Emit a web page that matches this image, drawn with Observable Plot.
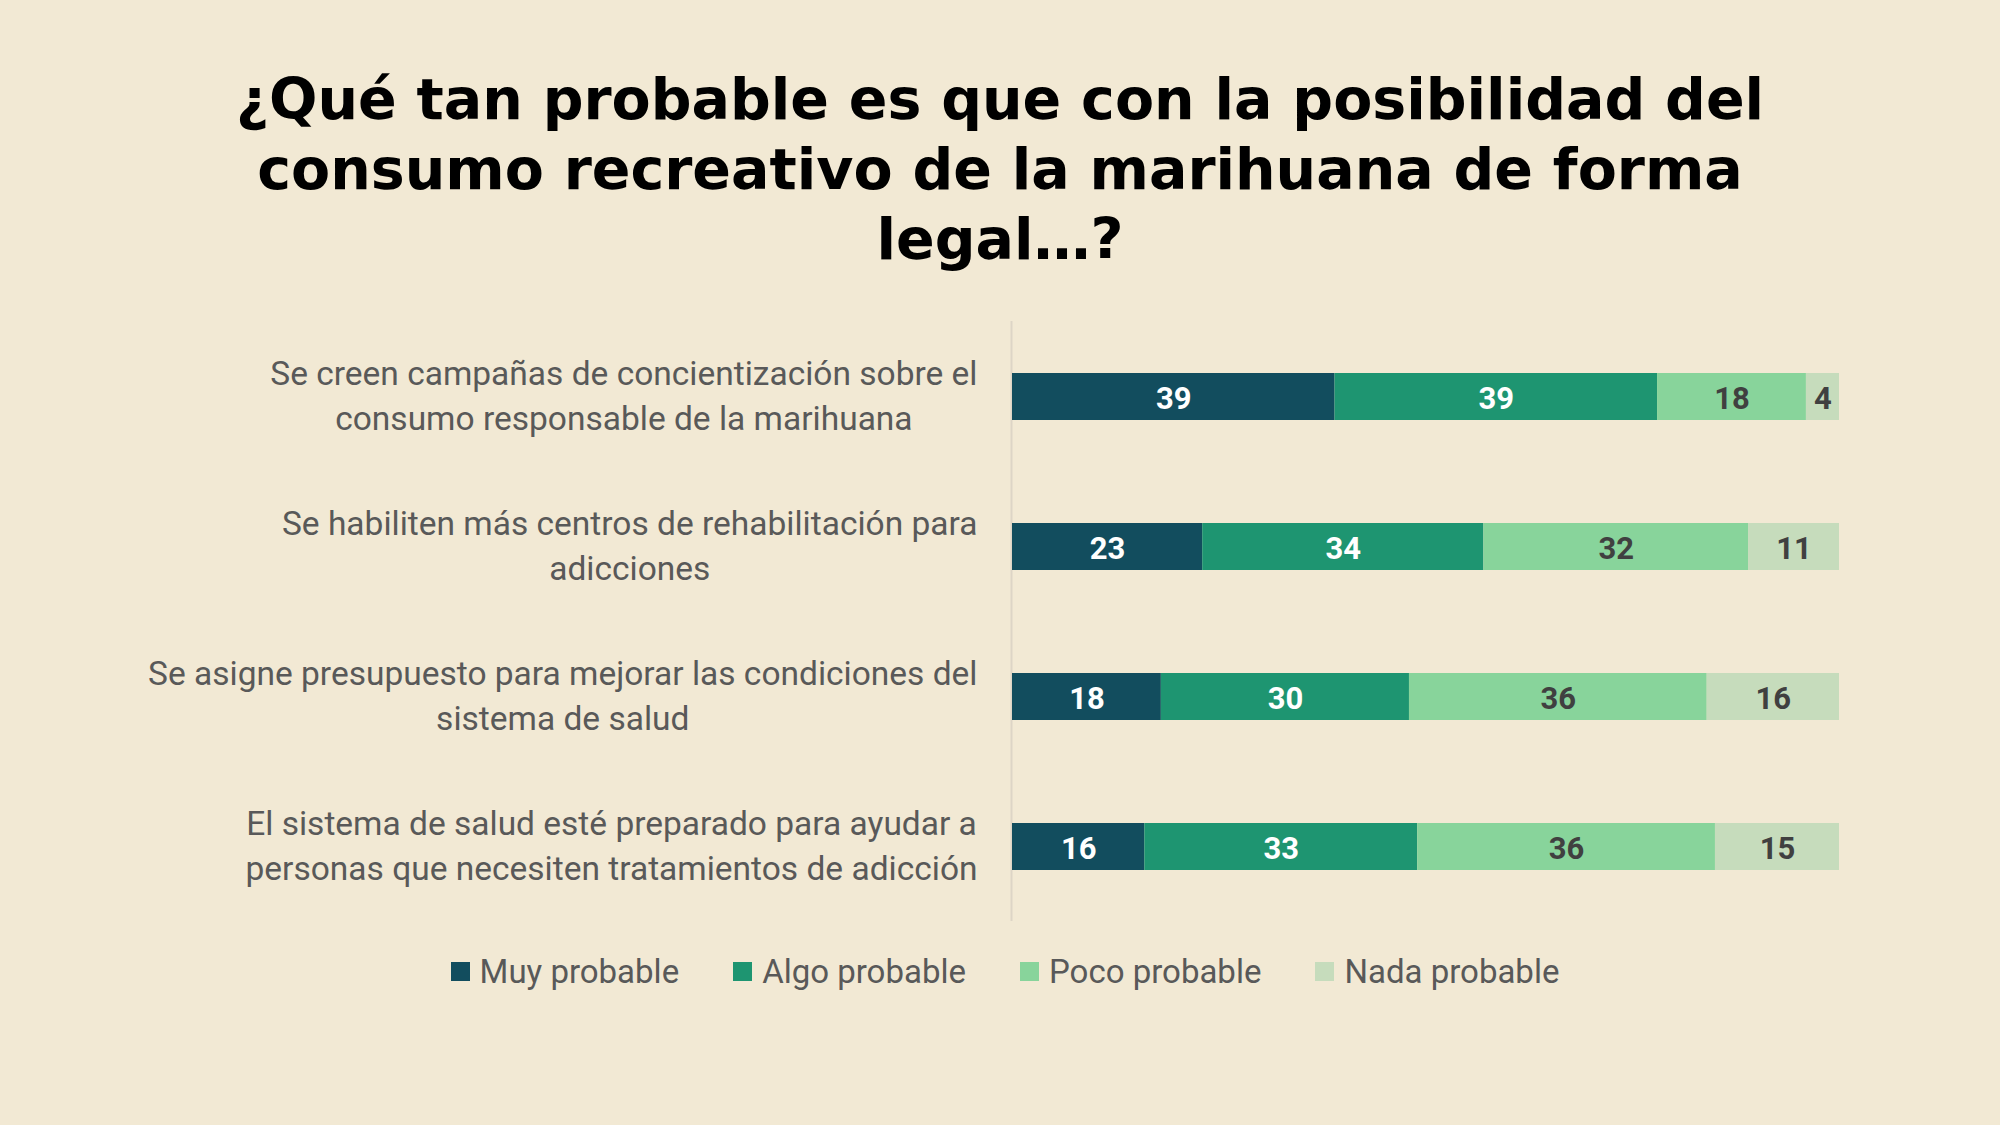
<!DOCTYPE html>
<html>
<head>
<meta charset="utf-8">
<script src="https://cdn.jsdelivr.net/npm/d3@7"></script>
<script src="https://cdn.jsdelivr.net/npm/@observablehq/plot@0.6"></script>
<style>
  html, body { margin: 0; padding: 0; }
  body { width: 2000px; height: 1125px; background: #f2e9d4; position: relative; overflow: hidden; font-family: Roboto, "Noto Sans", sans-serif; }
  #title { position: absolute; left: 0; top: 64px; width: 2000px; text-align: center; font-family: "DejaVu Sans", sans-serif; font-weight: bold; font-size: 57px; line-height: 70px; color: #000; }
  #chart { position: absolute; left: 0; top: 301px; }
  #legend { position: absolute; left: 0; top: 952px; width: 2000px; display: flex; justify-content: center; padding-left: 10px; box-sizing: border-box; gap: 54px; font-size: 33px; color: #595959; }
  .item { display: flex; align-items: center; }
  .sw { width: 19px; height: 19px; margin-right: 10px; }
</style>
</head>
<body>
<div id="title">¿Qué tan probable es que con la posibilidad del<br>consumo recreativo de la marihuana de forma<br>legal…?</div>
<div id="chart"></div>
<div id="legend"></div>
<script>
const categories = [
  "Se creen campañas de concientización sobre el\nconsumo responsable de la marihuana",
  "Se habiliten más centros de rehabilitación para\nadicciones",
  "Se asigne presupuesto para mejorar las condiciones del\nsistema de salud",
  "El sistema de salud esté preparado para ayudar a\npersonas que necesiten tratamientos de adicción"
];
const seriesNames = ["Muy probable", "Algo probable", "Poco probable", "Nada probable"];
const seriesColors = ["#124d5e", "#1e9571", "#88d49b", "#c6dcbc"];
const muy = [39, 23, 18, 16];
const algo = [39, 34, 30, 33];
const poco = [18, 32, 36, 36];
const nada = [4, 11, 16, 15];

const seriesValues = [muy, algo, poco, nada];
const data = [];
categories.forEach((c, i) => {
  seriesNames.forEach((s, j) => data.push({category: c, series: s, value: seriesValues[j][i]}));
});
const lightText = new Set(["Muy probable", "Algo probable"]);

const labelFont = 33.5;
const chart = Plot.plot({
  width: 2000,
  height: 620,
  marginTop: 20,
  marginBottom: 0,
  marginLeft: 1012,
  marginRight: 161,
  style: {background: "transparent", fontFamily: "Roboto, 'Noto Sans', sans-serif"},
  x: {domain: [0, 100], axis: null},
  y: {domain: categories, paddingInner: 0.687, paddingOuter: 0.3435, axis: null},
  color: {domain: seriesNames, range: seriesColors},
  marks: [
    Plot.ruleX([0], {stroke: "#ddd5c6", strokeWidth: 2, dx: -1, y1: null, y2: null}),
    Plot.barX(data, Plot.stackX({x: "value", y: "category", z: "series", fill: "series", order: seriesNames})),
    Plot.text(data, Plot.stackX({x: "value", y: "category", z: "series", order: seriesNames,
      text: d => lightText.has(d.series) ? String(d.value) : "",
      fill: "white", fontSize: 31, fontWeight: "bold", dy: 2})),
    Plot.text(data, Plot.stackX({x: "value", y: "category", z: "series", order: seriesNames,
      text: d => lightText.has(d.series) ? "" : String(d.value),
      fill: "#404040", fontSize: 31, fontWeight: "bold", dy: 2})),
    Plot.text(categories, {y: d => d, text: d => d, frameAnchor: "left", dx: -35, dy: -4, textAnchor: "end",
      fontSize: labelFont, fill: "#595959", lineHeight: 1.33, className: "ylab"})
  ]
});
document.getElementById("chart").appendChild(chart);

// center lines of each multi-line label within its right-aligned block
chart.querySelectorAll(".ylab text").forEach(t => {
  const spans = t.querySelectorAll("tspan");
  if (!spans.length) return;
  let w = 0;
  spans.forEach(s => { w = Math.max(w, s.getComputedTextLength()); });
  t.setAttribute("text-anchor", "middle");
  spans.forEach(s => s.setAttribute("x", -w / 2));
});

const legend = document.getElementById("legend");
seriesNames.forEach((s, i) => {
  const it = document.createElement("div");
  it.className = "item";
  const sw = document.createElement("div");
  sw.className = "sw";
  sw.style.background = seriesColors[i];
  const lb = document.createElement("span");
  lb.textContent = s;
  it.appendChild(sw); it.appendChild(lb);
  legend.appendChild(it);
});
</script>
</body>
</html>
